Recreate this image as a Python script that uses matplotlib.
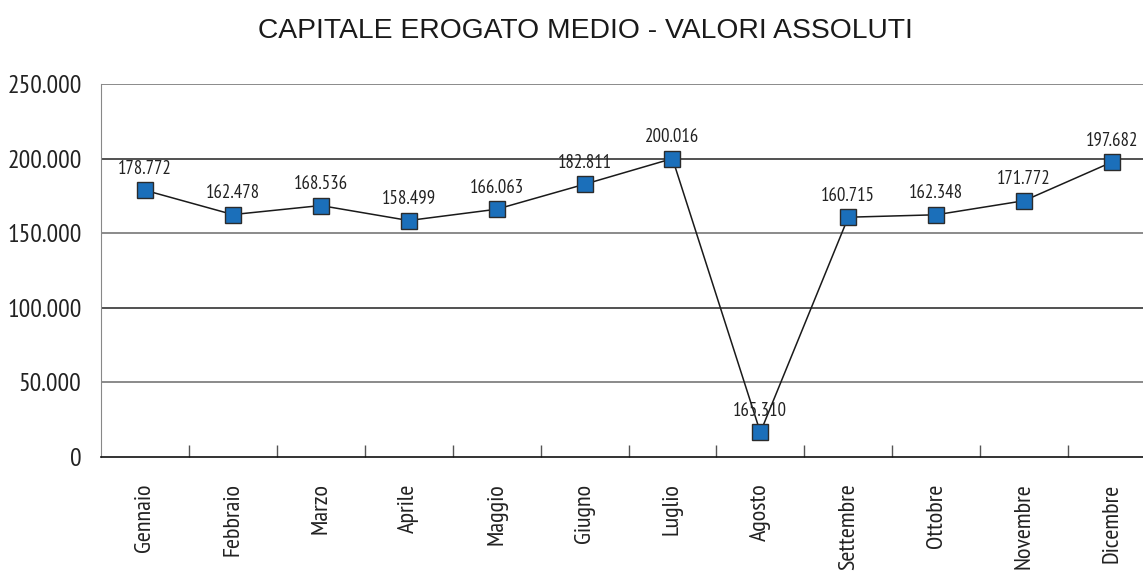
import matplotlib.pyplot as plt

months = ['Gennaio', 'Febbraio', 'Marzo', 'Aprile', 'Maggio', 'Giugno',
          'Luglio', 'Agosto', 'Settembre', 'Ottobre', 'Novembre', 'Dicembre']
values = [178772, 162478, 168536, 158499, 166063, 182811,
          200016, 16531, 160715, 162348, 171772, 197682]
# labels as printed in the source (Agosto label differs from plotted point)
point_labels = ['178.772', '162.478', '168.536', '158.499', '166.063', '182.811',
                '200.016', '165.310', '160.715', '162.348', '171.772', '197.682']
y_ticks = [0, 50000, 100000, 150000, 200000, 250000]
y_tick_labels = ['0', '50.000', '100.000', '150.000', '200.000', '250.000']

narrow = ['PT Sans Narrow', 'Fira Sans Condensed', 'DejaVu Sans']

fig = plt.figure(figsize=(11.43, 5.75), dpi=100)
ax = fig.add_axes([101 / 1143, 1 - 457 / 575, 1055 / 1143, 373 / 575])

x = list(range(len(months)))
ax.plot(x, values, color='#1a1a1a', lw=1.1, zorder=3,
        marker='s', markersize=11, markerfacecolor='#1b6fba',
        markeredgecolor='#2b2b2b', markeredgewidth=1.0)

for xi, v, lab in zip(x, values, point_labels):
    ax.annotate(lab, (xi, v), xytext=(0, 9), textcoords='offset points',
                ha='center', va='bottom', fontsize=13.5, family=narrow,
                color='#222222', zorder=4)

ax.set_xlim(-0.5, len(months) - 0.5)
ax.set_ylim(0, 250000)

ax.set_yticks(y_ticks)
ax.set_yticklabels(y_tick_labels, family=narrow, fontsize=18.5, color='#222222')
ax.tick_params(axis='y', length=0, pad=14)

# category labels rotated, ticks at category boundaries
ax.set_xticks(x)
ax.set_xticklabels(months, rotation=90, family=narrow, fontsize=17.5, color='#222222')
ax.tick_params(axis='x', which='major', length=0, pad=19)
ax.set_xticks([i + 0.5 for i in x[:-1]], minor=True)
ax.tick_params(axis='x', which='minor', direction='in', length=9, width=1, color='#555555')

for yv in y_ticks[1:]:
    ax.axhline(yv, color='#777777' if yv in (50000, 150000, 250000) else '#333333',
               lw=1.2, zorder=1)

ax.spines['left'].set_color('#888888')
ax.spines['bottom'].set_color('#111111')
ax.spines['bottom'].set_linewidth(1.2)
ax.spines['top'].set_visible(False)
ax.spines['right'].set_visible(False)

fig.text(585 / 1143, 1 - 31 / 575, 'CAPITALE EROGATO MEDIO - VALORI ASSOLUTI',
         ha='center', va='center', fontsize=20.3, family=['Liberation Sans', 'DejaVu Sans'],
         color='#1a1a1a')

fig.savefig('out.png', dpi=100)
